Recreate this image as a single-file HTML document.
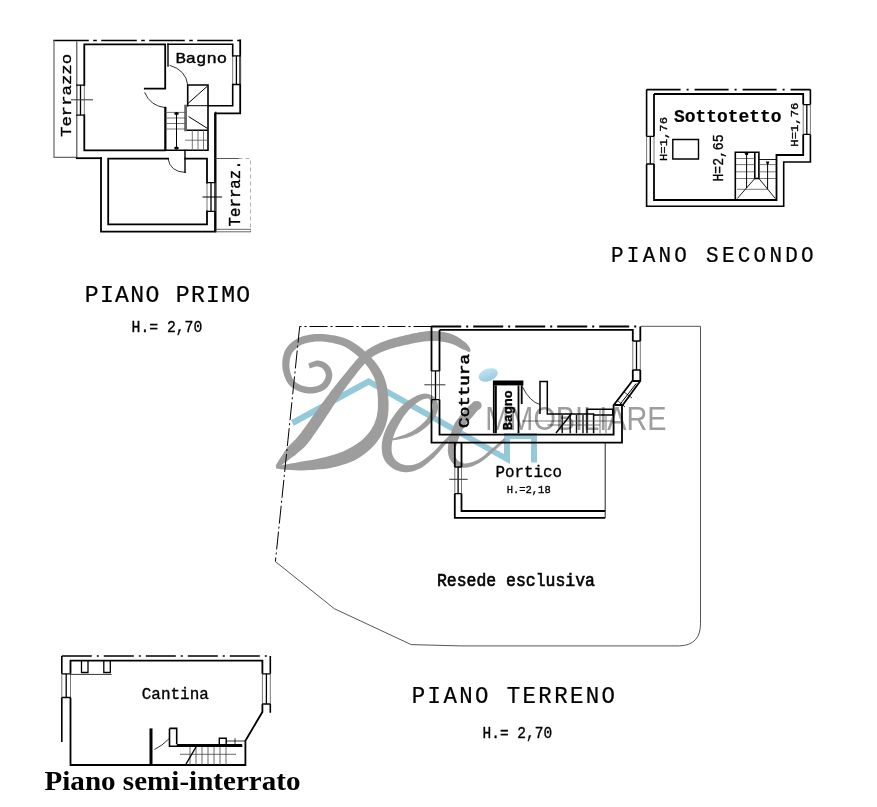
<!DOCTYPE html>
<html><head><meta charset="utf-8">
<style>
html,body{margin:0;padding:0;background:#fff;}
body{width:877px;height:807px;overflow:hidden;position:relative;}
svg{position:absolute;left:0;top:0;}
.m{font-family:"Liberation Mono",monospace;}
.s{font-family:"Liberation Sans",sans-serif;}
</style></head><body>
<svg width="877" height="807" viewBox="0 0 877 807">
<rect width="877" height="807" fill="#fff"/>
<g fill="none" stroke="#000" stroke-width="1.6" stroke-linecap="square">
<!-- PIANO PRIMO -->
<path d="M54,40.5H240.2" stroke-dasharray="34 6 2 6"/>
<path d="M54,40.5V157.3H76.8" stroke="#666" stroke-width="1.2"/>
<path d="M76.8,42V158.2" stroke-width="1.1" stroke="#444"/><path d="M76.8,158.2H101" stroke-width="1.8"/><path d="M101,158.2V231.6H215V113.4H240.2V40.5" stroke-width="1.8"/>
<path d="M165.2,88.6H144.8M165.2,107.7V150.4H84.3V115.2M84.3,85.2V44.3H165.2V88.6" stroke-width="1.8"/>
<path d="M168,44.3H232.7V55.9M232.7,84.5V105.7H208"/>
<path d="M240.2,55.9V84.5M232.7,55.9V84.5" stroke="#777" stroke-width="1"/><path d="M240.2,55.9H232.7M240.2,84.5H232.7M236.4,55.9V84.5" stroke-width="1.3"/>
<path d="M168,44.3V66" stroke-width="1.4"/>
<path d="M187.7,105.7V85H208V150.3H165.6V107.9"/>
<path d="M185.6,105.7H206.8" stroke-width="1"/><path d="M185.6,105.7V130.2H206.8" stroke-width="1.6"/><path d="M185.6,106V130" stroke="#666" stroke-width="2.6"/>
<path d="M166,112.4H185.6M166,118H185.6M166,123.5H185.6M166,129H185.6" stroke-width="0.8" stroke="#555"/>
<path d="M192.3,130.2V150.3M198,130.2V150.3M203.5,130.2V150.3M185.6,140.2H208" stroke-width="0.8" stroke="#555"/>
<path d="M176.5,113V148.6" stroke-width="1"/><ellipse cx="176.5" cy="113.5" rx="2.3" ry="1.6" fill="#000" stroke="none"/><ellipse cx="176.5" cy="148" rx="2.3" ry="1.6" fill="#000" stroke="none"/>
<path d="M187.9,103.5L206.8,86.7M189,116.8L206.8,128" stroke-width="1"/>
<path d="M215.8,112.4V231.5" stroke-width="1.4"/>
<path d="M168,158.6H108.2V224.4H207V211.4M207,182.7V158.6H185.2" stroke-width="1.8"/>
<path d="M215.0,182.7V211.4M207.0,182.7V211.4" stroke="#777" stroke-width="1"/><path d="M215.0,182.7H207.0M215.0,211.4H207.0M211.0,182.7V211.4" stroke-width="1.3"/>
<path d="M185,150.5V172.4" stroke-width="1.4"/>
<path d="M168,158.7Q170,172 185,172.4" stroke-width="0.8"/>
<path d="M170,65.4Q186,70 187.7,84.5" stroke-width="0.8"/>
<path d="M144.8,92.7Q150,106 165.2,107.7" stroke-width="0.8"/>
<path d="M76.8,85.2V115.2M84.3,85.2V115.2" stroke="#777" stroke-width="1"/><path d="M76.8,85.2H84.3M76.8,115.2H84.3M80.5,85.2V115.2" stroke-width="1.3"/><path d="M71.4,99.8H92.5" stroke="#333" stroke-width="1"/>
<path d="M203,197H221.6" stroke-width="1"/>
<path d="M216,158.5H239" stroke-width="1" stroke="#555"/><path d="M239,158.5H250.5V231.5" stroke-width="0.8" stroke="#999" stroke-dasharray="3 4"/><path d="M216,229.3H250.5M216,231.8H250.5" stroke-width="0.9" stroke="#555"/>
</g>
<g class="m" fill="#000" stroke="#000" stroke-width="0.35">
<text transform="translate(71.2,137) rotate(-90)" font-size="15.4" textLength="83.1" lengthAdjust="spacingAndGlyphs">Terrazzo</text>
<text transform="translate(239.5,226.4) rotate(-90)" font-size="16.6" textLength="66" lengthAdjust="spacingAndGlyphs">Terraz.</text>
<text x="175.4" y="63.4" font-size="14.4" textLength="51.8" lengthAdjust="spacingAndGlyphs">Bagno</text>
</g>

<!-- PIANO SECONDO -->
<g fill="none" stroke="#000" stroke-width="1.6">
<path d="M646.6,89.6H810.4" stroke-dasharray="34 6 2 6"/>
<path d="M646.6,89.6V136.4M646.6,164V206.2H783.7V162H810.4V134.4M810.4,104.6V89.6"/>
<path d="M654,94H803.2V104.6M803.2,134.4V155H776.5V200H654V164M654,136.4V94" stroke-width="1.8"/>
<path d="M646.6,136.4V164.0M654.0,136.4V164.0" stroke="#777" stroke-width="1"/><path d="M646.6,136.4H654.0M646.6,164.0H654.0M650.3,136.4V164.0" stroke-width="1.3"/><path d="M810.4,104.6V134.4M803.2,104.6V134.4" stroke="#777" stroke-width="1"/><path d="M810.4,104.6H803.2M810.4,134.4H803.2M806.8,104.6V134.4" stroke-width="1.3"/>
<path d="M672.8,139.5H698.5V159H672.8Z" stroke-width="1.4"/>
<path d="M735.3,200V152.3H758.9V178.5H754.8V152.3" stroke-width="1.6"/>
<path d="M758.9,159.5H776.3" stroke-width="0.9"/>
<path d="M736,158.5H754.8M736,164.6H754.8M736,171.8H754.8M736,178.5H754.8M758.9,164.6H776M758.9,171.8H776M758.9,178.5H776M737,189.3H768" stroke-width="0.7" stroke="#444"/>
<path d="M746.6,154V188M767.6,162V189" stroke-width="1"/>
<circle cx="746.6" cy="153.5" r="1.8" fill="#000" stroke="none"/>
<path d="M765.8,161.5H769.4L767.6,166Z" fill="#000" stroke="none"/>
<path d="M754.8,178.5L737.3,198.5M758.9,178.5L775.3,198.5" stroke-width="0.9"/>
</g>
<g class="m" fill="#000" stroke="#000" stroke-width="0.35">
<text x="673.9" y="122.1" font-size="18.7" font-weight="bold" stroke-width="0.2" textLength="107.7" lengthAdjust="spacingAndGlyphs">Sottotetto</text>
<text transform="translate(666.7,161) rotate(-90)" font-size="11" textLength="44" lengthAdjust="spacingAndGlyphs">H=1,76</text>
<text transform="translate(723,181.6) rotate(-90)" font-size="15.3" textLength="47.2" lengthAdjust="spacingAndGlyphs">H=2,65</text>
<text transform="translate(798,146.7) rotate(-90)" font-size="10.8" textLength="44.1" lengthAdjust="spacingAndGlyphs">H=1,76</text>
</g>
<!-- RESEDE boundary -->
<g fill="none" stroke="#000" stroke-width="1">
<path d="M431.5,326.5H299.7L275.4,561.6" stroke-dasharray="18 3 2 3"/>
<path d="M275.4,561.6L334.3,608.7L411.2,644.6L460,645.9H679.7Q700.5,645 700.5,623.7V326.3H640.4" stroke="#555"/>
</g>
<!-- PIANO TERRENO house -->
<g fill="none" stroke="#000" stroke-width="1.8">
<path d="M431.2,326.5H640.3" stroke-dasharray="30 5 2 5"/>
<path d="M431.5,326.5V370.9M431.5,399.6V442.7H622V406L640.3,381V370M640.3,341V326.5"/>
<path d="M439.5,329.9H632.8V341M632.8,370V380.2L613.6,405.3V434.6H439.5V399.6M439.5,370.9V329.9"/>
<path d="M431.5,370.9V399.6M439.5,370.9V399.6" stroke="#777" stroke-width="1"/><path d="M431.5,370.9H439.5M431.5,399.6H439.5M435.5,370.9V399.6" stroke-width="1.3"/><path d="M424.3,384.8H445.4" stroke="#333" stroke-width="1"/>
<path d="M640.3,341.0V370.0M632.8,341.0V370.0" stroke="#777" stroke-width="1"/><path d="M640.3,341.0H632.8M640.3,370.0H632.8M636.5,341.0V370.0" stroke-width="1.3"/>
<path d="M454.8,442.7V467M454.8,493.6V517.8H605.2M461.5,442.7V467M461.5,493.6V511H605.2" /><path d="M605.2,442.7V517.8" stroke-width="1" stroke="#222"/>
<path d="M454.8,467.0V493.6M461.5,467.0V493.6" stroke="#777" stroke-width="1"/><path d="M454.8,467.0H461.5M454.8,493.6H461.5M458.1,467.0V493.6" stroke-width="1.3"/><path d="M449.2,479.3H467.7" stroke="#333" stroke-width="1"/>
<path d="M493.8,433.3V381.4H522.5V385.4M518.5,385.4V433.3M521.7,385.4V404M495.9,385.4V433.3"/>
<path d="M493.8,383.4H522.5" stroke-width="4"/>
<path d="M540,414V381.4H547.3V414H593.6V433.3M587,433.3V409.3H593.6H612.7V415H593.6" stroke-width="1.5"/>
<path d="M562.2,415V433.3M570.2,415V433.3M576.5,415V433.3M583,415V433.3" stroke-width="1.4" stroke="#111"/><path d="M522,421H613M547.3,425H600M600,409.3V433.3M606,415V433.3" stroke-width="0.8" stroke="#555"/>
<path d="M522.5,387Q530,402 540,404.5" stroke-width="0.8"/>
<path d="M556,433L572,413" stroke-width="1.4"/>
<path d="M636.2,383.5L619.5,405" stroke-width="1"/><path d="M624,392L632,398M618,401L625,407" stroke-width="0.8"/><path d="M632.8,381H640.3M614.5,405H623.5" stroke-width="2"/>
</g>
<g class="m" fill="#000" stroke="#000" stroke-width="0.35">
<text transform="translate(469.2,427.9) rotate(-90)" font-size="14" stroke-width="0.55" textLength="73.9" lengthAdjust="spacingAndGlyphs">Cottura</text>
<text transform="translate(511.9,430.2) rotate(-90)" font-size="12" font-weight="bold" textLength="39.9" lengthAdjust="spacingAndGlyphs">Bagno</text>
<text x="495.4" y="477.2" font-size="17" textLength="66.7" lengthAdjust="spacingAndGlyphs">Portico</text>
<text x="506.7" y="492.6" font-size="11" textLength="44" lengthAdjust="spacingAndGlyphs">H.=2,18</text>
</g>
<!-- CANTINA -->
<g fill="none" stroke="#000" stroke-width="1.6">
<path d="M61.8,656H270.3" stroke-dasharray="30 5 2 5"/>
<path d="M61.8,656V673.8M61.8,697.5V742"/>
<path d="M270.3,656V673.8M270.3,704V712.8"/>
<path d="M70.5,673.8V660.7H262.4V673.8M262.4,704V711.9L245.4,740.7V765H70.5V697.5" stroke-width="1.8"/>
<path d="M61.8,673.8V697.5M70.5,673.8V697.5" stroke="#777" stroke-width="1"/><path d="M61.8,673.8H70.5M61.8,697.5H70.5M66.2,673.8V697.5" stroke-width="1.3"/><path d="M270.3,673.8V704.0M262.4,673.8V704.0" stroke="#777" stroke-width="1"/><path d="M270.3,673.8H262.4M270.3,704.0H262.4M266.4,673.8V704.0" stroke-width="1.3"/>
<path d="M81.5,660.7V672.5H88V660.7M103.8,660.7V672.5H110.3V660.7" stroke-width="1.3"/>
<path d="M70.5,674.4H111.6" stroke-width="0.8"/>
<path d="M151,765V728.4" stroke-width="3"/>
<path d="M169.5,728.4H176.7V744M169.5,728.4V746.3H242.2" stroke-width="1.6"/>
<path d="M176.7,745.5H242.2" stroke-width="3"/>
<path d="M219.3,746V738.3H226.2V746" stroke-width="1.4"/>
<path d="M226.2,741H245M235,738.3V746" stroke-width="0.8"/>
<path d="M190,747V765M196,747V765M202,747V765M208,747V765M214,747V765M220,747V765M226,747V765M180,754.3H236" stroke-width="0.8" stroke="#444"/>
<path d="M154.4,749.5Q162,746 169.5,738.3" stroke-width="0.8"/>
<path d="M186,764L196,747" stroke-width="1.4"/>
</g>
<g class="m" fill="#000" stroke="#000" stroke-width="0.35">
<text x="141.8" y="698.8" font-size="16" textLength="67" lengthAdjust="spacingAndGlyphs">Cantina</text>
</g>
<g class="m" fill="#000" stroke="#000" stroke-width="0.35">
<text transform="translate(84.8,301.9) scale(0.94,1)" stroke-width="0.25" font-size="24.6" textLength="176" lengthAdjust="spacing">PIANO PRIMO</text>
<text x="131.6" y="332" font-size="17.3" textLength="70.7" lengthAdjust="spacingAndGlyphs">H.= 2,70</text>
<text transform="translate(611,262) scale(0.94,1)" stroke-width="0.25" font-size="22.3" textLength="215.6" lengthAdjust="spacing">PIANO SECONDO</text>
<text transform="translate(411.8,703.3) scale(0.94,1)" stroke-width="0.25" font-size="23.8" textLength="216.2" lengthAdjust="spacing">PIANO TERRENO</text>
<text x="482.6" y="738" font-size="16" textLength="69.5" lengthAdjust="spacingAndGlyphs">H.= 2,70</text>
<text x="437" y="585.6" font-size="17.5" stroke-width="0.6" textLength="158" lengthAdjust="spacingAndGlyphs">Resede esclusiva</text>
</g>
<text x="44.5" y="789.5" font-family="Liberation Serif" font-weight="bold" font-size="26.5" textLength="256" lengthAdjust="spacingAndGlyphs">Piano semi-interrato</text>
<!--LOGO--><g id="logo" style="mix-blend-mode:multiply">
<path d="M292.4,423L368.6,381.5L507,459V436H534V462.5" fill="none" stroke="#93c9d8" stroke-width="6" stroke-linejoin="miter"/>
<defs><linearGradient id="bg" x1="0" y1="0" x2="0" y2="1"><stop offset="0" stop-color="#c2e4f3"/><stop offset="1" stop-color="#96cade"/></linearGradient></defs><ellipse cx="488.2" cy="374.9" rx="10" ry="6.2" transform="rotate(-20 488.2 374.9)" fill="url(#bg)"/>
<path d="M309.8,368.4 L310.6,368.2 L311.6,367.8 L312.7,367.5 L313.9,367.1 L315.1,366.8 L316.2,366.5 L317.1,366.4 L317.8,366.5 L318.5,366.6 L319.3,366.9 L320.1,367.2 L321.0,367.6 L321.8,368.1 L322.5,368.6 L323.1,369.1 L323.6,369.7 L324.0,370.2 L324.5,370.9 L324.9,371.7 L325.2,372.5 L325.5,373.4 L325.7,374.2 L325.8,375.0 L325.8,375.7 L325.6,376.6 L325.4,377.5 L325.1,378.6 L324.6,379.6 L324.1,380.7 L323.5,381.6 L322.9,382.5 L322.3,383.1 L321.6,383.7 L320.7,384.3 L319.6,384.9 L318.5,385.4 L317.3,385.9 L316.0,386.2 L314.7,386.6 L313.5,386.8 L312.3,386.9 L311.0,387.0 L309.6,387.0 L308.3,387.0 L306.9,386.8 L305.6,386.6 L304.3,386.3 L303.0,385.9 L301.7,385.4 L300.4,384.9 L299.0,384.2 L297.7,383.5 L296.5,382.7 L295.4,381.9 L294.4,381.0 L293.6,380.0 L292.8,378.9 L292.1,377.5 L291.5,376.0 L290.9,374.4 L290.4,372.7 L290.0,371.0 L289.7,369.3 L289.5,367.6 L289.4,366.0 L289.4,364.3 L289.5,362.5 L289.7,360.7 L290.0,359.0 L290.4,357.3 L290.9,355.8 L291.4,354.5 L292.0,353.3 L292.8,352.1 L293.6,351.0 L294.6,349.9 L295.6,348.9 L296.7,347.9 L297.9,347.0 L299.0,346.1 L300.2,345.4 L301.5,344.8 L302.8,344.2 L304.3,343.7 L305.8,343.3 L307.4,342.9 L309.0,342.5 L310.7,342.2 L312.3,341.9 L313.9,341.7 L315.5,341.5 L317.2,341.4 L318.9,341.4 L320.6,341.4 L322.5,341.5 L324.6,341.7 L326.9,342.0 L329.3,342.4 L331.9,342.8 L334.4,343.4 L337.0,344.0 L339.6,344.7 L342.0,345.6 L344.3,346.6 L346.6,347.8 L348.9,349.3 L351.3,350.9 L353.6,352.7 L355.9,354.6 L358.2,356.5 L360.3,358.5 L362.3,360.5 L364.1,362.5 L365.9,364.6 L367.6,366.8 L369.2,369.0 L370.6,371.2 L372.0,373.5 L373.1,375.7 L374.2,377.9 L375.0,380.2 L375.7,382.5 L376.3,384.8 L376.8,387.2 L377.1,389.6 L377.4,392.2 L377.6,394.7 L377.8,397.4 L377.9,400.0 L377.9,402.8 L377.9,405.6 L377.8,408.4 L377.6,411.1 L377.2,413.7 L376.8,416.2 L376.2,418.6 L375.4,420.8 L374.6,423.1 L373.6,425.2 L372.4,427.3 L371.2,429.4 L369.9,431.4 L368.4,433.3 L366.9,435.1 L365.2,436.9 L363.4,438.7 L361.5,440.4 L359.4,442.0 L357.3,443.6 L355.0,445.1 L352.7,446.5 L350.4,447.8 L348.0,449.1 L345.6,450.3 L343.0,451.4 L340.3,452.5 L337.5,453.5 L334.6,454.4 L331.6,455.3 L328.6,456.2 L325.5,457.0 L322.3,457.8 L318.9,458.6 L315.5,459.2 L312.0,459.9 L308.4,460.4 L305.0,461.0 L301.6,461.5 L298.1,462.3 L294.5,463.0 L290.8,463.6 L287.1,464.3 L283.7,464.8 L280.5,465.4 L277.9,466.0 L276.0,466.5 L276.0,468.5 L278.1,468.8 L280.7,469.2 L283.9,469.5 L287.4,469.7 L291.1,470.0 L295.0,470.2 L298.8,470.4 L302.4,470.5 L305.9,470.3 L309.5,470.1 L313.1,469.9 L316.8,469.6 L320.5,469.3 L324.2,468.9 L327.9,468.4 L331.4,467.8 L334.7,467.1 L338.0,466.2 L341.3,465.3 L344.5,464.3 L347.6,463.2 L350.7,462.0 L353.7,460.7 L356.6,459.2 L359.4,457.5 L362.1,455.7 L364.7,453.8 L367.3,451.8 L369.7,449.7 L372.0,447.5 L374.1,445.2 L376.1,442.9 L377.9,440.4 L379.6,437.9 L381.2,435.4 L382.6,432.7 L383.9,430.0 L385.0,427.2 L386.0,424.4 L386.8,421.4 L387.5,418.4 L388.0,415.2 L388.3,412.1 L388.5,408.9 L388.6,405.7 L388.6,402.6 L388.4,399.6 L388.2,396.6 L387.9,393.8 L387.6,390.9 L387.1,388.1 L386.6,385.2 L385.9,382.4 L385.0,379.6 L384.0,376.8 L382.8,374.1 L381.5,371.4 L379.9,368.8 L378.3,366.2 L376.5,363.7 L374.6,361.3 L372.6,358.9 L370.5,356.7 L368.3,354.5 L366.1,352.4 L363.7,350.2 L361.2,348.1 L358.6,346.1 L356.0,344.2 L353.3,342.4 L350.5,340.8 L347.7,339.4 L344.9,338.2 L341.9,337.2 L338.9,336.4 L336.0,335.8 L333.2,335.3 L330.4,334.9 L327.8,334.5 L325.4,334.3 L323.1,334.0 L320.9,333.9 L318.8,333.9 L316.8,333.9 L314.9,334.0 L313.0,334.2 L311.2,334.5 L309.3,334.8 L307.5,335.2 L305.6,335.6 L303.8,336.0 L302.0,336.6 L300.1,337.2 L298.4,338.0 L296.6,338.9 L295.0,339.9 L293.4,340.9 L291.9,342.1 L290.5,343.4 L289.1,344.8 L287.8,346.3 L286.6,347.9 L285.5,349.6 L284.6,351.5 L283.8,353.5 L283.3,355.5 L282.8,357.6 L282.5,359.8 L282.3,362.0 L282.3,364.1 L282.3,366.3 L282.5,368.4 L282.8,370.4 L283.3,372.5 L283.8,374.6 L284.5,376.6 L285.3,378.6 L286.2,380.5 L287.2,382.3 L288.4,384.0 L289.7,385.5 L291.2,386.9 L292.8,388.1 L294.4,389.1 L296.1,390.0 L297.7,390.8 L299.3,391.5 L301.0,392.1 L302.6,392.6 L304.3,393.0 L306.1,393.3 L307.8,393.5 L309.5,393.5 L311.2,393.5 L312.9,393.4 L314.5,393.2 L316.1,392.9 L317.7,392.5 L319.4,392.0 L321.0,391.4 L322.5,390.7 L324.0,389.9 L325.4,389.0 L326.7,387.9 L327.9,386.6 L328.9,385.3 L329.8,383.8 L330.5,382.4 L331.2,380.8 L331.7,379.3 L332.0,377.8 L332.2,376.3 L332.3,374.7 L332.1,373.2 L331.8,371.7 L331.3,370.3 L330.8,368.9 L330.1,367.6 L329.3,366.4 L328.4,365.3 L327.4,364.4 L326.3,363.5 L325.1,362.7 L323.8,362.0 L322.4,361.5 L321.1,361.0 L319.7,360.7 L318.2,360.5 L316.6,360.6 L315.0,360.9 L313.5,361.4 L312.1,361.9 L310.8,362.4 L309.7,363.0 L308.8,363.4 L308.2,363.6Z" fill="#9d9d9d"/>
<path d="M277.4,467.9 L278.9,467.0 L280.9,465.7 L283.1,464.1 L285.5,462.3 L288.0,460.4 L290.4,458.5 L292.8,456.8 L294.9,455.4 L296.4,454.0 L297.8,452.7 L299.3,451.6 L300.7,450.4 L302.3,449.1 L304.0,447.5 L305.7,445.7 L307.6,443.6 L309.6,441.1 L311.5,438.4 L313.5,435.6 L315.6,432.6 L317.7,429.5 L319.7,426.5 L321.8,423.5 L323.7,420.6 L325.6,417.7 L327.5,414.8 L329.4,411.9 L331.3,408.9 L333.2,406.1 L335.0,403.3 L336.8,400.5 L338.6,397.9 L340.3,395.4 L342.0,393.0 L343.6,390.7 L345.2,388.4 L346.8,386.2 L348.5,383.9 L350.2,381.7 L352.0,379.3 L354.0,376.8 L356.0,374.2 L358.0,371.6 L360.1,369.0 L362.2,366.5 L364.2,364.2 L366.2,362.0 L368.1,360.2 L370.0,358.6 L371.9,357.2 L373.7,356.0 L375.5,355.0 L377.4,354.0 L379.4,353.0 L381.5,352.1 L383.7,351.2 L386.1,350.2 L388.5,349.4 L391.1,348.6 L393.7,347.9 L396.4,347.1 L399.3,346.5 L402.1,345.8 L405.1,345.1 L408.1,344.5 L411.3,343.8 L414.6,343.1 L417.9,342.5 L421.1,341.9 L424.2,341.5 L427.2,341.2 L429.9,341.0 L432.5,340.9 L435.1,340.9 L437.5,341.1 L439.9,341.3 L442.3,341.7 L444.5,342.1 L446.6,342.5 L448.6,343.0 L450.5,343.5 L452.3,344.1 L454.1,344.8 L455.8,345.6 L457.5,346.5 L459.1,347.3 L460.7,348.2 L462.0,348.9 L463.3,349.4 L464.3,349.8 L465.3,350.3 L466.3,350.8 L467.1,351.2 L467.9,351.6 L468.6,352.0 L469.3,352.2 L470.7,350.8 L470.5,350.2 L470.3,349.5 L470.0,348.6 L469.5,347.6 L468.9,346.6 L468.1,345.5 L467.1,344.3 L466.0,343.1 L464.7,342.1 L463.3,341.0 L461.7,339.8 L460.0,338.5 L458.1,337.3 L456.0,336.0 L453.7,334.9 L451.4,334.0 L449.0,333.3 L446.5,332.7 L443.9,332.1 L441.2,331.7 L438.4,331.3 L435.5,331.1 L432.6,331.0 L429.5,331.0 L426.2,331.3 L422.9,331.7 L419.5,332.2 L416.0,332.9 L412.6,333.6 L409.3,334.4 L406.0,335.1 L402.9,335.9 L399.9,336.6 L397.0,337.4 L394.1,338.1 L391.2,339.0 L388.3,339.8 L385.6,340.8 L382.9,341.8 L380.3,342.8 L377.8,343.9 L375.5,345.0 L373.3,346.2 L371.1,347.4 L369.0,348.8 L366.8,350.3 L364.7,351.9 L362.5,353.8 L360.2,356.0 L357.9,358.3 L355.6,360.8 L353.4,363.4 L351.2,366.1 L349.0,368.7 L347.0,371.3 L345.0,373.7 L343.1,376.0 L341.2,378.3 L339.4,380.5 L337.6,382.7 L335.9,385.0 L334.1,387.2 L332.3,389.6 L330.4,392.1 L328.5,394.7 L326.5,397.3 L324.5,400.1 L322.4,402.9 L320.4,405.7 L318.4,408.5 L316.3,411.2 L314.3,414.0 L312.2,416.9 L310.2,419.9 L308.0,422.9 L306.0,425.9 L303.9,428.7 L301.9,431.4 L300.1,433.9 L298.4,436.0 L296.9,437.8 L295.6,439.3 L294.3,440.6 L293.1,441.8 L291.8,443.0 L290.3,444.4 L288.8,445.9 L287.1,447.6 L285.6,449.9 L284.0,452.4 L282.3,455.0 L280.5,457.7 L278.9,460.2 L277.5,462.6 L276.3,464.6 L275.6,466.1Z" fill="#9d9d9d"/>
<path d="M391.9,440.4 L393.2,440.3 L395.0,440.0 L397.2,439.7 L399.6,439.3 L402.1,438.8 L404.6,438.3 L407.0,437.7 L409.2,437.1 L411.2,436.3 L413.1,435.5 L414.9,434.6 L416.7,433.7 L418.4,432.8 L420.1,431.7 L421.8,430.6 L423.5,429.3 L425.1,428.0 L426.8,426.5 L428.5,424.9 L430.1,423.2 L431.6,421.5 L433.0,419.8 L434.3,418.1 L435.4,416.5 L436.2,414.8 L436.9,413.1 L437.4,411.4 L437.8,409.8 L438.0,408.1 L438.1,406.5 L438.0,405.0 L437.7,403.5 L437.3,402.0 L436.6,400.5 L435.8,399.2 L434.8,397.9 L433.7,396.8 L432.5,395.8 L431.1,394.9 L429.7,394.4 L428.2,393.9 L426.7,393.7 L425.1,393.6 L423.5,393.8 L421.8,394.1 L420.1,394.5 L418.4,395.1 L416.6,395.8 L414.8,396.7 L412.9,397.7 L410.9,398.9 L408.9,400.2 L406.9,401.7 L404.9,403.3 L402.9,405.0 L401.0,406.8 L399.2,408.8 L397.4,411.0 L395.5,413.3 L393.8,415.7 L392.1,418.2 L390.5,420.6 L389.1,423.0 L387.8,425.3 L386.7,427.5 L385.7,429.7 L384.8,431.9 L384.0,434.0 L383.4,436.1 L382.8,438.2 L382.4,440.3 L382.0,442.3 L381.8,444.4 L381.7,446.4 L381.7,448.4 L381.9,450.5 L382.1,452.4 L382.4,454.4 L382.9,456.3 L383.6,458.1 L384.4,459.8 L385.4,461.5 L386.6,463.0 L387.8,464.3 L389.1,465.6 L390.5,466.7 L391.9,467.8 L393.3,468.7 L394.8,469.5 L396.4,470.2 L398.1,470.8 L399.8,471.4 L401.6,471.8 L403.4,472.0 L405.2,472.2 L407.0,472.2 L408.8,472.1 L410.5,471.8 L412.3,471.4 L414.1,470.9 L415.9,470.3 L417.7,469.6 L419.5,468.7 L421.3,467.7 L423.2,466.6 L425.1,465.2 L426.9,463.7 L428.8,462.2 L430.6,460.6 L432.4,458.9 L434.1,457.4 L435.6,455.8 L437.1,454.3 L438.5,452.8 L439.8,451.3 L441.0,449.8 L442.2,448.3 L443.3,446.9 L444.4,445.5 L445.5,444.2 L446.7,442.9 L447.9,441.6 L449.2,440.3 L450.4,439.0 L451.6,437.8 L452.6,436.8 L453.5,435.9 L454.2,435.2 L452.0,433.0 L451.3,433.7 L450.4,434.5 L449.4,435.5 L448.1,436.7 L446.8,437.9 L445.5,439.2 L444.2,440.5 L442.9,441.8 L441.7,443.1 L440.4,444.4 L439.2,445.8 L438.0,447.2 L436.7,448.5 L435.4,449.9 L434.0,451.2 L432.6,452.6 L431.0,453.9 L429.3,455.4 L427.5,456.9 L425.7,458.3 L423.8,459.7 L422.0,460.9 L420.3,462.0 L418.7,462.9 L417.1,463.6 L415.6,464.1 L414.1,464.6 L412.6,464.9 L411.1,465.1 L409.7,465.2 L408.3,465.3 L407.0,465.2 L405.7,465.1 L404.5,464.9 L403.2,464.6 L402.0,464.2 L400.8,463.7 L399.7,463.2 L398.6,462.6 L397.7,461.9 L396.8,461.2 L395.9,460.4 L395.1,459.5 L394.4,458.6 L393.8,457.7 L393.2,456.7 L392.8,455.7 L392.4,454.7 L392.1,453.6 L391.9,452.5 L391.7,451.2 L391.6,449.8 L391.6,448.3 L391.6,446.8 L391.7,445.3 L392.0,443.7 L392.2,442.1 L392.5,440.4 L392.9,438.7 L393.3,436.9 L393.9,435.2 L394.6,433.3 L395.3,431.5 L396.2,429.5 L397.2,427.5 L398.4,425.2 L399.7,422.9 L401.1,420.6 L402.5,418.3 L404.0,416.1 L405.5,414.0 L407.0,412.2 L408.4,410.5 L410.0,408.8 L411.6,407.3 L413.2,405.8 L414.8,404.4 L416.4,403.2 L418.0,402.1 L419.4,401.2 L420.7,400.4 L422.0,399.8 L423.3,399.3 L424.5,398.9 L425.6,398.7 L426.6,398.6 L427.5,398.5 L428.3,398.6 L429.0,399.0 L429.7,399.5 L430.5,400.1 L431.1,400.9 L431.8,401.8 L432.3,402.8 L432.6,403.7 L432.9,404.5 L433.0,405.4 L433.0,406.5 L432.9,407.6 L432.7,408.7 L432.3,410.0 L431.9,411.2 L431.3,412.5 L430.6,413.7 L429.8,415.1 L428.8,416.6 L427.6,418.1 L426.2,419.7 L424.8,421.2 L423.3,422.8 L421.8,424.2 L420.3,425.5 L418.9,426.7 L417.4,427.8 L416.0,428.8 L414.4,429.8 L412.9,430.8 L411.2,431.7 L409.5,432.5 L407.8,433.3 L405.9,434.2 L403.7,435.0 L401.3,435.8 L398.9,436.6 L396.6,437.3 L394.6,437.9 L392.8,438.5 L391.5,439.0Z" fill="#9d9d9d"/>
<path d="M474.4,401.1 L473.8,401.5 L473.1,402.2 L472.2,403.0 L471.1,403.9 L470.0,405.0 L468.7,406.1 L467.5,407.4 L466.2,408.7 L465.0,410.1 L463.7,411.6 L462.2,413.2 L460.7,415.0 L459.1,416.9 L457.5,419.0 L456.0,421.3 L454.6,423.6 L453.5,426.2 L452.4,429.0 L451.4,431.8 L450.5,434.7 L449.6,437.6 L448.9,440.5 L448.4,443.2 L448.1,445.7 L447.9,448.0 L447.8,450.2 L448.0,452.3 L448.2,454.3 L448.7,456.2 L449.3,458.0 L450.1,459.7 L451.1,461.3 L452.2,462.7 L453.6,464.0 L455.1,465.1 L456.7,466.0 L458.4,466.8 L460.2,467.4 L462.0,467.7 L463.9,467.8 L465.8,467.8 L467.7,467.5 L469.7,467.0 L471.7,466.4 L473.7,465.7 L475.7,464.8 L477.7,463.8 L479.7,462.7 L481.6,461.5 L483.6,460.1 L485.5,458.5 L487.5,456.9 L489.4,455.2 L491.2,453.5 L492.9,451.9 L494.6,450.4 L496.2,449.0 L497.9,447.4 L499.6,445.9 L501.2,444.4 L502.6,443.0 L503.9,441.8 L505.0,440.7 L505.8,439.9 L504.2,438.1 L503.3,438.8 L502.1,439.9 L500.8,441.1 L499.3,442.4 L497.7,443.8 L496.0,445.3 L494.3,446.8 L492.6,448.2 L490.9,449.6 L489.1,451.2 L487.2,452.8 L485.4,454.4 L483.5,455.9 L481.6,457.4 L479.7,458.6 L477.9,459.7 L476.1,460.6 L474.3,461.3 L472.4,462.0 L470.5,462.6 L468.8,463.0 L467.1,463.3 L465.5,463.4 L464.1,463.4 L462.9,463.1 L461.6,462.7 L460.4,462.1 L459.3,461.5 L458.3,460.7 L457.4,459.9 L456.7,459.0 L456.1,458.1 L455.8,457.1 L455.5,456.0 L455.3,454.8 L455.2,453.5 L455.2,452.0 L455.3,450.5 L455.6,448.8 L455.9,446.9 L456.5,444.9 L457.2,442.7 L458.0,440.2 L459.0,437.7 L460.0,435.1 L461.1,432.6 L462.3,430.3 L463.4,428.4 L464.4,426.6 L465.6,424.8 L466.9,423.1 L468.3,421.5 L469.7,419.9 L471.1,418.3 L472.5,416.7 L473.8,415.3 L474.8,413.9 L475.8,412.6 L476.8,411.4 L477.8,410.3 L478.6,409.3 L479.4,408.4 L480.1,407.6 L480.6,406.9Z" fill="#9d9d9d"/>
<circle cx="477" cy="405.5" r="4.6" fill="#9d9d9d"/>
<text x="485.3" y="430" font-family="Liberation Sans" font-size="33.4" fill="#9d9d9d" textLength="181.3" lengthAdjust="spacingAndGlyphs">MMOBILIARE</text>
</g>
<!--/LOGO-->
</svg>
</body></html>
